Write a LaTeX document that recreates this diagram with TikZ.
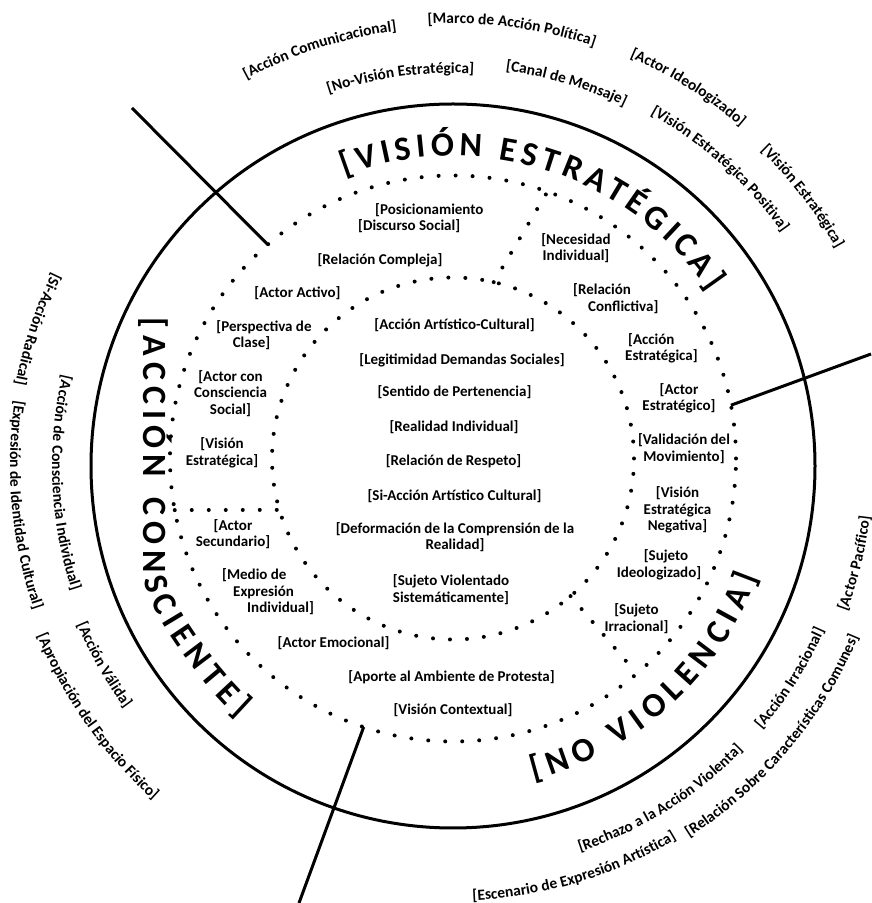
\documentclass[tikz,border=0pt]{standalone}
\usepackage{fontspec}
\setmainfont{Carlito}
\usetikzlibrary{decorations.text}

\newcommand*\bigfont{\bfseries\fontsize{34}{34}\selectfont}
\newcommand*\outfont{\bfseries\fontsize{15.5}{15.5}\selectfont}
% outer labels: #1 middle angle, #2 radius, #3 text
\newcommand*\toparc[3]{\path[decorate, decoration={text along path, text align=center,
    text={|\outfont|#3}}] ([shift={(C)}]{#1+40}:#2) arc[start angle={#1+40}, end angle={#1-40}, radius=#2pt];}
\newcommand*\lowarc[3]{\path[decorate, decoration={text along path, text align=center,
    text={|\outfont|#3}}] ([shift={(C)}]{#1-40}:#2) arc[start angle={#1-40}, end angle={#1+40}, radius=#2pt];}

\tikzset{
  lbl/.style={font=\bfseries\fontsize{15}{16.5}\selectfont, align=center, inner sep=0pt},
  dots/.style={line width=4pt, line cap=round, dash pattern=on 0pt off 17pt},
  cut/.style={line width=3pt},
}

\begin{document}
\begin{tikzpicture}[x=1pt,y=1pt]
\useasboundingbox (0,0) rectangle (871,903);
\coordinate (C) at (453,437);
\coordinate (D) at (453,444.5);

\draw[cut] (C) circle[radius=362pt];
\draw[dots] (D) circle[radius=181pt];
\draw[dots] (D) circle[radius=283pt];

\path (D) ++(77:181) coordinate (needIn) (D) ++(70.5:283) coordinate (needOut);
\path (D) ++(196.5:181) coordinate (leftIn) (D) ++(190.5:283) coordinate (leftOut);
\path (D) ++(-49.5:181) coordinate (irrIn) (D) ++(-49.5:283) coordinate (irrOut);
\draw[dots] (needIn) -- (needOut);
\draw[dots] (leftOut) -- (leftIn);
\draw[dots] (irrIn) -- (irrOut);

\path (D) ++(130.9:283) coordinate (cutA) (D) ++(10.85:283) coordinate (cutB) (D) ++(251.6:283) coordinate (cutC);
\coordinate (endA) at (132,795);
\coordinate (endB) at (871,549);
\coordinate (endC) at (299,0);
\draw[cut] (cutA) -- (endA);
\draw[cut] (cutB) -- (endB);
\draw[cut] (cutC) -- (endC);

\path[decorate, decoration={text along path, text align={fit to path}, text={|\bigfont|[VISIÓN ESTRATÉGICA]}}]
  ([shift={(C)}]110.5:310) arc[start angle=110.5, end angle=34.4, radius=310pt];
\path[decorate, decoration={text along path, text align={fit to path}, text={|\bigfont|[ACCIÓN CONSCIENTE]}}]
  (143,585) -- (143,330) .. controls (143,295) and (205,214) .. (238.5,185);
\path[decorate, decoration={text along path, text align={fit to path}, text={|\bigfont|[NO VIOLENCIA]}}]
  ([shift={(C)}]-75.7:324) arc[start angle=-75.7, end angle=-20, radius=324pt];

\node[lbl] (artcult) at (454.5,578) {[Acción Artístico-Cultural]};
\node[lbl] (legit) at (462,543) {[Legitimidad Demandas Sociales]};
\node[lbl] (perten) at (454.5,511) {[Sentido de Pertenencia]};
\node[lbl] (realind) at (454,476) {[Realidad Individual]};
\node[lbl] (respeto) at (453.5,442) {[Relación de Respeto]};
\node[lbl] (siarte) at (454.5,407) {[Si-Acción Artístico Cultural]};
\node[lbl] (deform) at (455,366) {[Deformación de la Comprensión de la\\Realidad]};
\node[lbl] (violent) at (451,313.5) {[Sujeto Violentado\\Sistemáticamente]};

\node[lbl, align=left, anchor=west] (posic) at (358,685) {\hspace*{17pt}[Posicionamiento\\{}[Discurso Social]};
\node[lbl] (compleja) at (380,643) {[Relación Compleja]};
\node[lbl] (necesid) at (576,655) {[Necesidad\\Individual]};

\node[lbl] (activo) at (297.5,610) {[Actor Activo]};
\node[lbl] (perspec) at (264,568) {[Perspectiva de\\Clase]\hspace*{25pt}};
\node[lbl] (conscien) at (230.5,509.5) {[Actor con\\Consciencia\\Social]};
\node[lbl] (visestr) at (222,450) {[Visión\\Estratégica]};
\node[lbl] (secund) at (233,369) {[Actor\\Secundario]};
\node[lbl, align=left, anchor=west] (medio) at (222,311) {[Medio de\\\hspace*{11pt}Expresión\\\hspace*{25pt}Individual]};
\node[lbl] (emocion) at (333.5,260) {[Actor Emocional]};

\node[lbl, align=left, anchor=west] (conflic) at (573,604.5) {[Relación\\\hspace*{15pt}Conflictiva]};
\node[lbl, align=left, anchor=west] (accestr) at (625,554.5) {\hspace*{3pt}[Acción\\Estratégica]};
\node[lbl] (actestr) at (679,504.5) {[Actor\\Estratégico]};
\node[lbl] (valid) at (684,454.5) {[Validación del\\Movimiento]};
\node[lbl] (negat) at (677.5,393) {[Visión\\Estratégica\\Negativa]};
\node[lbl] (ideolog) at (659,338) {\hspace*{14pt}[Sujeto\\Ideologizado]};
\node[lbl] (irrac) at (636.5,284.5) {[Sujeto\\Irracional]};

\node[lbl] (aporte) at (451.5,226) {[Aporte al Ambiente de Protesta]};
\node[lbl] (contex) at (453,193) {[Visión Contextual]};

\toparc{107.75}{438.5}{[Acción Comunicacional]}
\toparc{82.35}{442.5}{[Marco de Acción Política]}
\toparc{97.7}{393}{[No-Visión Estratégica]}
\toparc{73.5}{398.5}{[Canal de Mensaje]}
\toparc{58.15}{445}{[Actor Ideologizado]}
\toparc{48.05}{403.5}{[Visión Estratégica Positiva]}
\toparc{37.65}{440.5}{[Visión Estratégica]}
\lowarc{161.8}{445}{[Si-Acción Radical]}
\lowarc{185.2}{443}{[Expresión de Identidad Cultural]}
\lowarc{182.5}{401}{[Acción de Consciencia Individual]}
\lowarc{209.65}{408}{[Acción Válida]}
\lowarc{215.15}{449}{[Apropiación del Espacio Físico]}
\lowarc{-73.25}{435}{[Escenario de Expresión Artística]}
\lowarc{-58.1}{406}{[Rechazo a la Acción Violenta]}
\lowarc{-40.2}{440}{[Relación Sobre Características Comunes]}
\lowarc{-32.2}{406}{[Acción Irracional]}
\lowarc{-13.6}{420}{[Actor Pacífico]}
\end{tikzpicture}
\end{document}
